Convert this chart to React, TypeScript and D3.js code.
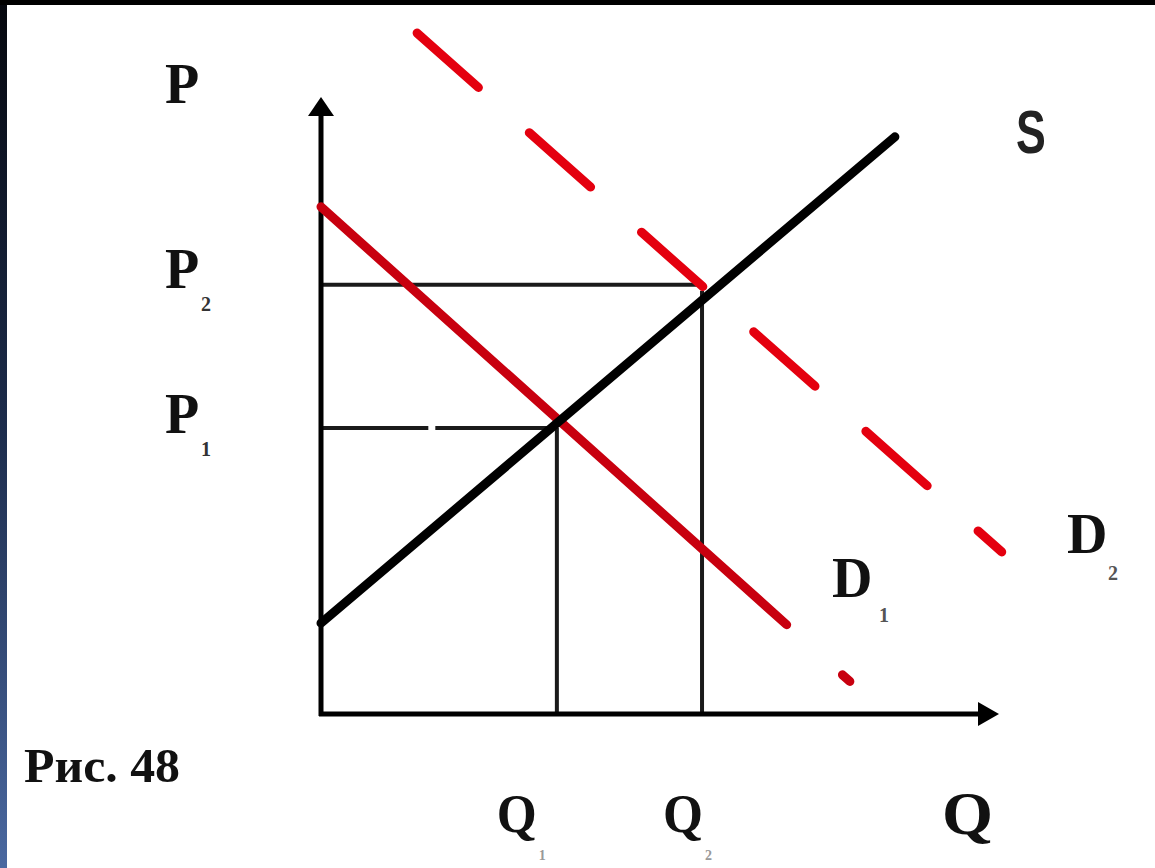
import React from "react";
import * as d3 from "d3";

// chart values (Q and P in arbitrary units 0..10)
const supplyS = [
  { q: 0.0, p: 1.48 },
  { q: 8.54, p: 9.4 },
];
const demandD1 = [
  { q: 0.0, p: 8.26 },
  { q: 7.87, p: 0.53 },
];
const d1SolidEnd = 6.93; // D1 is drawn solid up to here, then a tiny stub
const demandD2 = [
  { q: 1.43, p: 11.09 },
  { q: 10.13, p: 2.64 },
];
const eqQ = [3.51, 5.67];
const eqP = [4.66, 6.99];
const priceLabels = ["1", "2"];
const qtyLabels = ["1", "2"];
const qtyLabelShift = [-60, -39]; // where the Q labels sit relative to their guide

const W = 1155;
const H = 868;

const x = d3.scaleLinear().domain([0, 10]).range([321, 993]);
const y = d3.scaleLinear().domain([0, 10]).range([714, 100]);

const line = d3
  .line<{ q: number; p: number }>()
  .x((d) => x(d.q))
  .y((d) => y(d.p));

const serif = "'Liberation Serif', 'Times New Roman', serif";

export default function App() {
  // D1 dash: solid part, a gap, then a small stub
  const d1Len = Math.hypot(
    x(demandD1[1].q) - x(demandD1[0].q),
    y(demandD1[1].p) - y(demandD1[0].p)
  );
  const d1SolidLen = d1Len * (d1SolidEnd / demandD1[1].q);
  const stub = 10;
  const d1Dash = `${d1SolidLen} ${d1Len - d1SolidLen - stub} ${stub} 2000`;

  // P1 guide has a little break in it
  const p1Len = x(eqQ[0]) - x(0);
  const p1Dash = `${p1Len * 0.455} 7 ${p1Len}`;

  return (
    <div style={{ position: "fixed", left: 0, top: 0 }}>
      <svg width={W} height={H} style={{ display: "block", background: "#fff" }}>
        <defs>
          <linearGradient id="edge" x1="0" y1="0" x2="0" y2="1">
            <stop offset="0" stopColor="#05070d" />
            <stop offset="0.5" stopColor="#1d2d4d" />
            <stop offset="1" stopColor="#4a68a0" />
          </linearGradient>
        </defs>
        <rect x={0} y={0} width={W} height={H} fill="#fff" />
        <rect x={0} y={0} width={7} height={H} fill="url(#edge)" />
        <rect x={0} y={0} width={W} height={5} fill="#000" />

        {/* guide lines */}
        <g stroke="#1a1a1a" strokeWidth={4} fill="none">
          <line x1={x(0)} x2={x(eqQ[1])} y1={y(eqP[1])} y2={y(eqP[1])} />
          <line
            x1={x(0)}
            x2={x(eqQ[0])}
            y1={y(eqP[0])}
            y2={y(eqP[0])}
            strokeDasharray={p1Dash}
          />
          <line x1={x(eqQ[0])} x2={x(eqQ[0])} y1={y(eqP[0])} y2={y(0)} />
          <line x1={x(eqQ[1])} x2={x(eqQ[1])} y1={y(eqP[1]) + 6} y2={y(0)} />
        </g>

        {/* axes */}
        <g stroke="#000" strokeWidth={5} fill="none">
          <line x1={x(0)} x2={x(0)} y1={y(0) + 2} y2={112} />
          <line x1={x(0) - 2} x2={985} y1={y(0)} y2={y(0)} />
        </g>
        <path d={`M${x(0)},97 L${x(0) - 13},116 L${x(0) + 13},116 Z`} fill="#000" />
        <path d={`M999,${y(0)} L978,${y(0) - 12} L978,${y(0) + 12} Z`} fill="#000" />

        {/* curves */}
        <path
          d={line(demandD1) || ""}
          stroke="#c8000f"
          strokeWidth={9}
          fill="none"
          strokeLinecap="round"
          strokeDasharray={d1Dash}
        />
        <path
          d={line(supplyS) || ""}
          stroke="#000"
          strokeWidth={9}
          fill="none"
          strokeLinecap="round"
        />
        <path
          d={line(demandD2) || ""}
          stroke="#e4000f"
          strokeWidth={9}
          fill="none"
          strokeLinecap="round"
          strokeDasharray="82 68"
        />

        {/* labels */}
        <g fontFamily={serif} fontWeight="bold" fill="#111">
          <text x={165} y={103} fontSize={56}>P</text>
          {eqP.map((p, i) => (
            <g key={"p" + i}>
              <text x={165} y={y(p) + (i === 1 ? 3 : 5)} fontSize={56}>P</text>
              <text x={201} y={y(p) + (i === 1 ? 26 : 28)} fontSize={20} fill="#333">
                {priceLabels[i]}
              </text>
            </g>
          ))}
          {eqQ.map((q, i) => (
            <g key={"q" + i}>
              <text
                x={x(q) + qtyLabelShift[i]}
                y={832}
                fontSize={54}
                textLength={40}
                lengthAdjust="spacingAndGlyphs"
              >
                Q
              </text>
              <text x={x(q) + qtyLabelShift[i] + 42} y={860} fontSize={14} fill="#999">
                {qtyLabels[i]}
              </text>
            </g>
          ))}
          <text
            x={942}
            y={834}
            fontSize={62}
            textLength={51}
            lengthAdjust="spacingAndGlyphs"
          >
            Q
          </text>
          <text x={832} y={597} fontSize={56}>D</text>
          <text x={879} y={622} fontSize={20} fill="#555">1</text>
          <text x={1067} y={553} fontSize={56}>D</text>
          <text x={1108} y={580} fontSize={20} fill="#555">2</text>
          <text
            x={24}
            y={782}
            fontSize={48}
            textLength={156}
            lengthAdjust="spacingAndGlyphs"
          >
            Рис. 48
          </text>
        </g>
        <text
          x={1016}
          y={153}
          fontSize={62}
          fontFamily="'Liberation Sans', Arial, sans-serif"
          fontWeight="bold"
          fill="#222"
          transform={`translate(1016,153) scale(0.72,1) translate(-1016,-153)`}
        >
          S
        </text>
      </svg>
    </div>
  );
}
